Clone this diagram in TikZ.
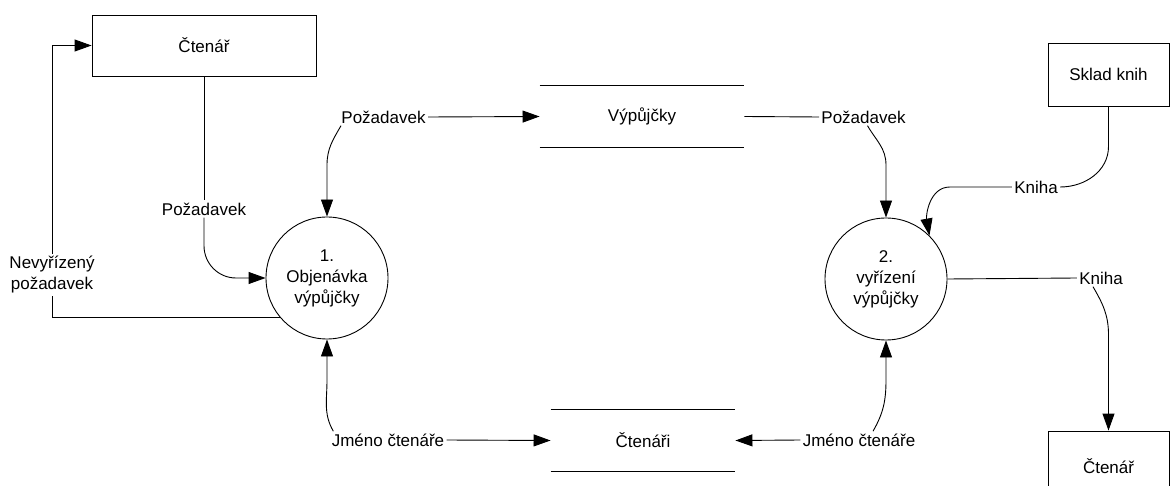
\documentclass[tikz,border=0pt]{standalone}
\usepackage{fontspec}
\setmainfont{Liberation Sans}
\usetikzlibrary{arrows.meta}

\begin{document}
\begin{tikzpicture}[x=10pt,y=10pt,line width=0.9pt,
  every node/.style={font=\fontsize{17}{21}\selectfont},
  entity/.style={draw,rectangle,inner sep=0pt},
  process/.style={draw,circle,inner sep=0pt,minimum size=122pt,align=center},
  store/.style={rectangle,inner sep=0pt,minimum height=61pt},
  flowlabel/.style={inner sep=2pt,align=center},
  flow/.style={-{Triangle[length=17pt,width=12pt]}}]
\useasboundingbox (0,0) rectangle (117,-48.6);
\node [entity,minimum width=224pt,minimum height=61pt] (reader1) at (20.4,-4.55) {Čtenář};
\node [entity,minimum width=121pt,minimum height=63pt] (stock) at (110.85,-7.45) {Sklad knih};
\node [entity,minimum width=121pt,minimum height=70pt] (reader2) at (110.85,-46.6) {Čtenář};
\node [process] (proc1) at (32.7,-27.8) {1.\\Objenávka\\výpůjčky};
\node [process] (proc2) at (88.6,-27.9) {2.\\vyřízení\\výpůjčky};
\node [store,minimum width=204pt] (loans) at (64.2,-11.65) {Výpůjčky};
\node [store,minimum width=184pt] (readers) at (64.3,-44.05) {Čtenáři};
\draw [black] (loans.north west) -- (loans.north east);
\draw [black] (loans.south west) -- (loans.south east);
\draw [black] (readers.north west) -- (readers.north east);
\draw [black] (readers.south west) -- (readers.south east);
\node [flowlabel] (reqA) at (38.35,-11.7) {Požadavek};
\node [flowlabel] (reqB) at (86.35,-11.7) {Požadavek};
\node [flowlabel] (reqC) at (20.4,-20.9) {Požadavek};
\node [flowlabel] (pending) at (5.2,-27.5) {Nevyřízený\\požadavek};
\node [flowlabel] (bookA) at (103.6,-18.7) {Kniha};
\node [flowlabel] (bookB) at (110.1,-27.8) {Kniha};
\node [flowlabel] (nameA) at (38.8,-44) {Jméno čtenáře};
\node [flowlabel] (nameB) at (85.9,-44) {Jméno čtenáře};
\draw [black,flow] (reqA.east) -- (loans.west);
\draw [black,flow] ([xshift=2pt]reqA.south west) to[out=-120,in=90] (proc1.north |- 0,-16.5) -- (proc1.north);
\draw [black] (loans.east) -- (reqB.west);
\draw [black,flow] ([xshift=4pt]reqB.south) to[out=-60,in=90] (proc2.north |- 0,-16.5) -- (proc2.north);
\draw [black] (reader1.south) -- (reqC.north);
\draw [black,flow] (reqC.south) -- ++(0,-2.8) to[out=-90,in=180] (23.6,-27.8) -- (proc1.west);
\draw [black] (proc1.220) -| (pending.south);
\draw [black,flow] (pending.north) |- (reader1.west);
\draw [black] (stock.south) -- ++(0,-4) to[out=-90,in=0] (bookA.east);
\draw [black,flow] (bookA.west) -- (95,-18.7) to[out=180,in=100] (proc2.45);
\draw [black] (proc2.east) -- (bookB.west);
\draw [black,flow] ([xshift=-8pt]bookB.south) to[out=-60,in=90] (reader2.north |- 0,-33.5) -- (reader2.north);
\draw [black,flow] (nameA.east) -- (readers.west);
\draw [black,flow] ([xshift=4pt]nameA.north west) to[out=120,in=-90] (proc1.south |- 0,-38) -- (proc1.south);
\draw [black,flow] (nameB.west) -- (readers.east);
\draw [black,flow] ([xshift=14pt]nameB.north) to[out=60,in=-90] (proc2.south |- 0,-38) -- (proc2.south);
\end{tikzpicture}
\end{document}
